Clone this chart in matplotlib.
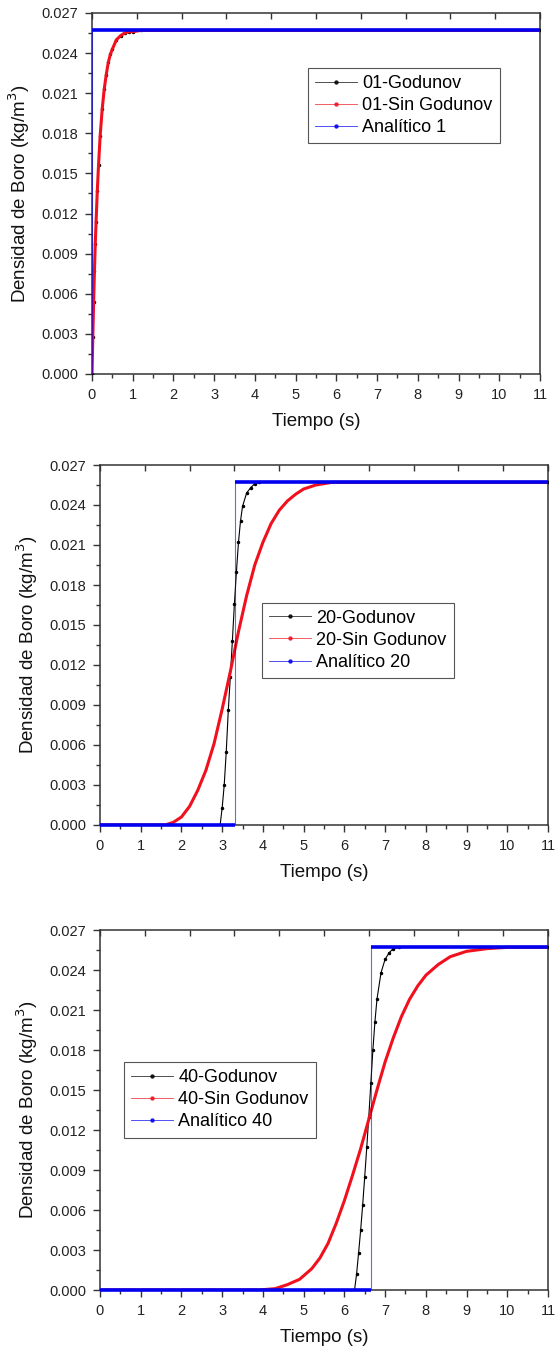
import numpy as np
import matplotlib
matplotlib.use("Agg")
import matplotlib.pyplot as plt
from matplotlib.lines import Line2D
from matplotlib.ticker import MultipleLocator, FormatStrFormatter

plt.rcParams['font.family'] = ['Liberation Sans', 'DejaVu Sans']

# ---------------- data ----------------
# Panel 1 (case 01)
t1_god = [0, 0.02, 0.04, 0.06, 0.08, 0.1, 0.13, 0.16, 0.2, 0.25, 0.3, 0.35, 0.4, 0.45, 0.5,
          0.6, 0.7, 0.8, 0.9, 1.0, 1.2, 11]
c1_god = [0, 0.0028, 0.0054, 0.0077, 0.0097, 0.0114, 0.0137, 0.0156, 0.0178, 0.0198, 0.0213,
          0.0224, 0.0233, 0.0239, 0.0243, 0.0250, 0.0253, 0.0255, 0.0256, 0.0256, 0.0257, 0.0257]
t1_sin = [0, 0.02, 0.04, 0.06, 0.08, 0.1, 0.13, 0.16, 0.2, 0.25, 0.3, 0.35, 0.4, 0.45, 0.5,
          0.6, 0.7, 0.8, 0.9, 1.0, 1.2, 11]
c1_sin = [0, 0.0028, 0.0054, 0.0077, 0.0097, 0.0114, 0.0137, 0.0156, 0.0178, 0.0198, 0.0213,
          0.0224, 0.0233, 0.0239, 0.0243, 0.0250, 0.0253, 0.0255, 0.0256, 0.0256, 0.0257, 0.0257]
t1_ana = [0, 0, 11]
c1_ana = [0, 0.0257, 0.0257]

# Panel 2 (case 20)
t2_god = [0, 2.95, 3.0, 3.05, 3.1, 3.15, 3.2, 3.25, 3.3, 3.35, 3.4, 3.45, 3.5, 3.6, 3.7, 3.8, 3.9, 11]
c2_god = [0, 0, 0.0013, 0.0030, 0.0055, 0.0086, 0.0111, 0.0138, 0.0166, 0.0190, 0.0212, 0.0228,
          0.0239, 0.0249, 0.0253, 0.0256, 0.0257, 0.0257]
t2_sin = [0, 1.6, 1.8, 2.0, 2.2, 2.4, 2.6, 2.8, 3.0, 3.2, 3.4, 3.6, 3.8, 4.0, 4.2, 4.4, 4.6,
          4.8, 5.0, 5.3, 5.7, 11]
c2_sin = [0, 0, 0.0002, 0.0006, 0.0014, 0.0026, 0.0041, 0.0061, 0.0087, 0.0115, 0.0145, 0.0172,
          0.0195, 0.0212, 0.0226, 0.0236, 0.0243, 0.0248, 0.0252, 0.0255, 0.0257, 0.0257]
t2_ana = [0, 3.31, 3.31, 11]
c2_ana = [0, 0, 0.0257, 0.0257]

# Panel 3 (case 40)
t3_god = [0, 6.25, 6.3, 6.35, 6.4, 6.45, 6.5, 6.55, 6.6, 6.65, 6.7, 6.75, 6.8, 6.9, 7.0, 7.1,
          7.2, 7.35, 11]
c3_god = [0, 0, 0.0012, 0.0028, 0.0045, 0.0064, 0.0085, 0.0107, 0.0130, 0.0155, 0.0180, 0.0201,
          0.0218, 0.0238, 0.0248, 0.0253, 0.0256, 0.0257, 0.0257]
t3_sin = [0, 3.9, 4.3, 4.6, 4.9, 5.2, 5.4, 5.6, 5.8, 6.0, 6.2, 6.4, 6.6, 6.8, 7.0, 7.2, 7.4,
          7.6, 7.8, 8.0, 8.3, 8.6, 9.0, 9.5, 10.0, 11]
c3_sin = [0, 0, 0.0001, 0.0004, 0.0008, 0.0016, 0.0024, 0.0035, 0.0050, 0.0067, 0.0086, 0.0106,
          0.0128, 0.0150, 0.0171, 0.0189, 0.0205, 0.0218, 0.0228, 0.0236, 0.0244, 0.0250,
          0.0254, 0.0256, 0.0257, 0.0257]
t3_ana = [0, 6.65, 6.65, 11]
c3_ana = [0, 0, 0.0257, 0.0257]

panels = [
    dict(god=(t1_god, c1_god), sin=(t1_sin, c1_sin), ana=(t1_ana, c1_ana),
         labels=["01-Godunov", "01-Sin Godunov", "Analítico 1"]),
    dict(god=(t2_god, c2_god), sin=(t2_sin, c2_sin), ana=(t2_ana, c2_ana),
         labels=["20-Godunov", "20-Sin Godunov", "Analítico 20"]),
    dict(god=(t3_god, c3_god), sin=(t3_sin, c3_sin), ana=(t3_ana, c3_ana),
         labels=["40-Godunov", "40-Sin Godunov", "Analítico 40"]),
]

x_ticks = list(range(0, 12))
y_ticks = [0.000, 0.003, 0.006, 0.009, 0.012, 0.015, 0.018, 0.021, 0.024, 0.027]

# ---------------- layout ----------------
W, H = 558, 1353
rects = [
    [92 / W, (H - 374) / H, 448 / W, 361 / H],
    [100 / W, (H - 825) / H, 448 / W, 360 / H],
    [100 / W, (H - 1290) / H, 448 / W, 360 / H],
]
legend_pos = [(0.482, 0.848), (0.362, 0.618), (0.054, 0.633)]

BLACK = '#000000'
RED = '#f0101e'
BLUE = '#0000f0'
AX = '#333333'

fig = plt.figure(figsize=(W / 100, H / 100), dpi=100)

for p, rect, lpos in zip(panels, rects, legend_pos):
    ax = fig.add_axes(rect)
    tg, cg = p['god']
    ts, cs = p['sin']
    ta, ca = p['ana']

    # Godunov: thin black line with small dots
    ax.plot(tg, cg, color=BLACK, lw=0.8, marker='o', ms=1.5, zorder=3)
    # Sin Godunov: thick red
    ax.plot(ts, cs, color=RED, lw=2.2, zorder=4)
    # Analytic: thin line everywhere, thick on the flat parts
    ta_arr = np.asarray(ta, float)
    ca_arr = np.asarray(ca, float)
    ax.plot(ta_arr, ca_arr, color=BLUE, lw=0.8, alpha=0.6, zorder=5)
    xs, ys = [], []
    for i in range(len(ta_arr) - 1):
        if ca_arr[i] == ca_arr[i + 1]:
            xs += [ta_arr[i], ta_arr[i + 1], np.nan]
            ys += [ca_arr[i], ca_arr[i + 1], np.nan]
    ax.plot(xs, ys, color=BLUE, lw=2.6, zorder=5, clip_on=False, solid_capstyle='butt')

    ax.set_xlim(0, 11)
    ax.set_ylim(0, 0.027)
    ax.set_xticks(x_ticks)
    ax.set_yticks(y_ticks)
    ax.xaxis.set_minor_locator(MultipleLocator(0.5))
    ax.yaxis.set_minor_locator(MultipleLocator(0.0015))
    ax.yaxis.set_major_formatter(FormatStrFormatter('%.3f'))
    ax.tick_params(axis='both', which='major', direction='out', length=5, width=1.0,
                   color=AX, labelsize=10.5, labelcolor='#222222', pad=5)
    ax.tick_params(axis='both', which='minor', direction='out', length=3, width=1.0, color=AX)
    ax.tick_params(top=False, right=False, which='both')
    for s in ax.spines.values():
        s.set_color(AX)
        s.set_linewidth(1.1)

    # top axis with 10 inward divisions
    ax2 = ax.twiny()
    ax2.set_xlim(0, 11)
    ax2.set_xticks(np.linspace(0, 11, 11))
    ax2.tick_params(axis='x', direction='in', length=4, width=1.0, color=AX,
                    labeltop=False, top=True)
    for s in ax2.spines.values():
        s.set_visible(False)

    ax.set_xlabel('Tiempo (s)', fontsize=13.5, color='#111111')
    ax.set_ylabel('Densidad de Boro (kg/m$^3$)', fontsize=13.5, color='#111111')
    ax.xaxis.set_label_coords(0.5, -39 / 361)
    ax.yaxis.set_label_coords(-60 / 448, 0.5)

    handles = [
        Line2D([], [], color=BLACK, lw=0.6, marker='o', ms=2.2, alpha=0.8),
        Line2D([], [], color=RED, lw=0.6, marker='o', ms=2.2, alpha=0.8),
        Line2D([], [], color=BLUE, lw=0.6, marker='o', ms=2.2, alpha=0.8),
    ]
    leg = ax.legend(handles, p['labels'], loc='upper left', bbox_to_anchor=lpos,
                    borderaxespad=0, fontsize=13, frameon=True, fancybox=False,
                    framealpha=1, edgecolor='#555555', handlelength=2.3,
                    handletextpad=0.3, borderpad=0.4, labelspacing=0.28)
    leg.get_frame().set_linewidth(0.8)
    leg.set_zorder(10)

fig.savefig('out.png', dpi=100)
